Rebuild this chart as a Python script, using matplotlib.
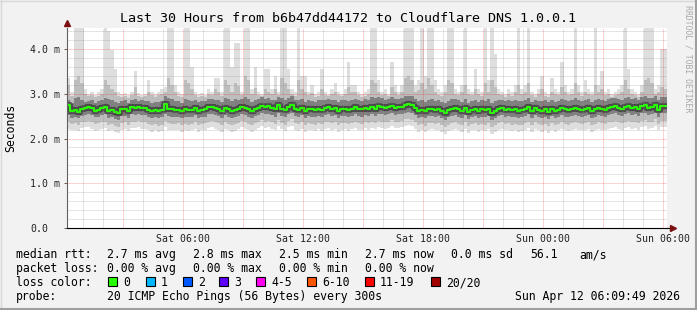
import numpy as np
import matplotlib
matplotlib.use("Agg")
import matplotlib.pyplot as plt
from matplotlib.patches import Rectangle
from matplotlib.lines import Line2D

# one column per 10 minutes, starting 00:12 Sat; values in 1/100 ms
start_h = 0.2
step_h = 1 / 6

median = [274, 262, 263, 260, 265, 268, 270, 269, 262, 264, 268, 270, 262, 263, 260, 258, 266, 267, 262, 270,
          269, 270, 269, 268, 263, 262, 264, 261, 263, 278, 266, 265, 264, 264, 262, 265, 263, 264, 268, 262,
          264, 265, 270, 271, 268, 266, 262, 268, 265, 262, 264, 267, 271, 268, 265, 262, 266, 269, 273, 270,
          272, 268, 265, 274, 267, 263, 271, 276, 266, 264, 268, 262, 266, 265, 263, 267, 264, 268, 270, 266,
          268, 262, 266, 267, 264, 267, 270, 266, 265, 269, 266, 270, 267, 272, 271, 268, 270, 273, 269, 270,
          271, 275, 277, 276, 268, 262, 264, 261, 266, 267, 264, 266, 262, 257, 263, 266, 268, 265, 262, 268,
          259, 264, 266, 262, 265, 263, 267, 258, 262, 266, 268, 264, 266, 263, 265, 262, 263, 266, 270, 262,
          268, 264, 262, 265, 260, 266, 262, 264, 268, 265, 263, 266, 268, 266, 264, 266, 268, 262, 265, 268,
          266, 264, 268, 270, 272, 268, 266, 270, 272, 268, 270, 266, 272, 274, 268, 270, 276, 264, 272, 272]

ping_max = [335, 305, 447, 447, 447, 310, 300, 305, 298, 303, 310, 447, 440, 397, 355, 305, 300, 302, 298, 305,
            350, 302, 298, 300, 330, 303, 299, 305, 310, 315, 447, 447, 320, 303, 300, 447, 447, 360, 305, 300,
            302, 298, 310, 305, 335, 335, 305, 447, 447, 360, 413, 413, 305, 447, 447, 310, 360, 305, 300, 355,
            355, 310, 340, 305, 447, 447, 355, 310, 303, 447, 340, 340, 305, 320, 300, 303, 355, 305, 300, 310,
            325, 305, 300, 310, 370, 320, 320, 305, 300, 303, 310, 447, 447, 330, 305, 310, 300, 370, 320, 305,
            320, 447, 447, 447, 320, 330, 447, 340, 447, 447, 330, 310, 305, 320, 447, 447, 310, 305, 320, 447,
            310, 305, 355, 310, 305, 447, 330, 447, 390, 310, 305, 300, 310, 305, 320, 447, 310, 320, 447, 305,
            300, 310, 340, 305, 300, 335, 310, 305, 370, 320, 305, 310, 447, 320, 305, 330, 310, 305, 447, 320,
            350, 305, 310, 300, 305, 310, 320, 447, 355, 310, 305, 300, 320, 447, 447, 447, 310, 320, 400, 400]

ping_hi = [320, 296, 330, 340, 325, 300, 294, 298, 292, 296, 300, 330, 320, 310, 305, 296, 292, 295, 290, 298,
           315, 294, 292, 296, 305, 297, 293, 298, 300, 305, 335, 320, 305, 296, 293, 330, 325, 310, 298, 293,
           296, 292, 300, 297, 310, 305, 296, 330, 320, 305, 325, 318, 297, 340, 330, 300, 312, 298, 294, 310,
           305, 300, 310, 297, 335, 325, 310, 300, 296, 330, 310, 305, 297, 302, 293, 296, 310, 298, 294, 300,
           305, 298, 294, 300, 315, 305, 303, 298, 293, 296, 300, 330, 325, 305, 297, 300, 294, 315, 303, 297,
           305, 335, 340, 330, 305, 308, 325, 310, 335, 320, 305, 298, 296, 305, 330, 325, 300, 297, 305, 320,
           300, 297, 310, 300, 296, 325, 305, 330, 315, 300, 297, 293, 300, 296, 305, 320, 300, 305, 325, 297,
           293, 300, 310, 296, 293, 305, 300, 297, 315, 305, 297, 300, 325, 305, 296, 305, 300, 297, 320, 305,
           310, 297, 300, 293, 297, 300, 305, 330, 310, 300, 297, 293, 305, 330, 335, 325, 300, 305, 315, 310]

ping_core_hi = [285, 280, 290, 292, 286, 282, 284, 286, 280, 283, 285, 290, 288, 286, 282, 280, 284, 285, 280, 286,
                288, 284, 285, 284, 283, 280, 282, 281, 283, 295, 290, 288, 284, 283, 280, 289, 287, 284, 286, 281,
                283, 284, 288, 289, 287, 285, 281, 290, 288, 283, 288, 287, 289, 292, 288, 282, 286, 288, 292, 289,
                291, 287, 286, 292, 290, 287, 290, 294, 285, 286, 288, 282, 285, 284, 282, 286, 285, 287, 289, 285,
                287, 282, 285, 286, 284, 286, 289, 285, 284, 288, 285, 292, 290, 292, 290, 287, 289, 292, 288, 289,
                290, 295, 296, 295, 288, 283, 286, 282, 287, 288, 284, 286, 282, 280, 284, 288, 288, 285, 282, 288,
                280, 284, 286, 282, 285, 284, 288, 280, 284, 286, 287, 284, 286, 283, 285, 283, 283, 286, 290, 282,
                287, 284, 283, 285, 281, 286, 282, 284, 288, 285, 283, 286, 290, 286, 284, 286, 288, 282, 287, 288,
                286, 284, 288, 290, 291, 288, 286, 291, 292, 288, 290, 286, 292, 294, 290, 291, 295, 285, 292, 292]

ping_core_lo = [252, 246, 248, 245, 250, 252, 254, 253, 247, 249, 252, 254, 246, 247, 244, 242, 250, 251, 246, 254,
                253, 254, 253, 252, 247, 246, 248, 245, 247, 255, 250, 249, 248, 248, 246, 249, 247, 248, 252, 246,
                248, 249, 254, 255, 252, 250, 246, 252, 249, 246, 248, 251, 255, 252, 249, 246, 250, 253, 256, 254,
                255, 252, 249, 257, 251, 247, 255, 258, 250, 248, 252, 246, 250, 249, 247, 251, 248, 252, 254, 250,
                252, 246, 250, 251, 248, 251, 254, 250, 249, 253, 250, 254, 251, 255, 254, 252, 254, 256, 253, 254,
                255, 258, 259, 258, 252, 246, 248, 245, 250, 251, 248, 250, 246, 242, 247, 250, 252, 249, 246, 252,
                243, 248, 250, 246, 249, 247, 251, 242, 246, 250, 252, 248, 250, 247, 249, 246, 247, 250, 254, 246,
                252, 248, 246, 249, 244, 250, 246, 248, 252, 249, 247, 250, 252, 250, 248, 250, 252, 246, 249, 252,
                250, 248, 252, 254, 256, 252, 250, 254, 256, 252, 254, 250, 256, 257, 252, 254, 258, 248, 256, 256]

ping_lo = [238, 232, 234, 230, 236, 238, 240, 236, 232, 234, 236, 238, 230, 232, 228, 226, 234, 236, 230, 238,
           238, 240, 236, 236, 232, 230, 233, 229, 231, 240, 234, 233, 232, 234, 230, 233, 231, 232, 236, 230,
           232, 234, 238, 240, 236, 234, 230, 236, 233, 230, 232, 235, 240, 236, 233, 230, 234, 237, 241, 238,
           240, 236, 233, 242, 235, 231, 240, 243, 234, 232, 236, 230, 234, 233, 231, 235, 232, 236, 238, 234,
           236, 230, 234, 235, 232, 235, 238, 234, 233, 237, 234, 238, 235, 240, 238, 236, 238, 241, 237, 238,
           240, 243, 244, 242, 236, 230, 232, 229, 234, 235, 232, 234, 230, 226, 231, 234, 236, 233, 230, 236,
           228, 232, 234, 230, 233, 231, 235, 226, 230, 234, 236, 232, 234, 231, 233, 230, 231, 234, 238, 230,
           236, 232, 230, 233, 228, 234, 230, 232, 236, 233, 231, 234, 236, 234, 232, 234, 236, 230, 233, 236,
           234, 232, 236, 238, 240, 236, 234, 238, 240, 236, 238, 234, 240, 242, 236, 238, 243, 232, 240, 240]

ping_min = [222, 218, 220, 216, 223, 225, 226, 221, 217, 220, 222, 224, 216, 218, 214, 212, 220, 222, 216, 224,
            224, 226, 222, 221, 218, 215, 219, 214, 217, 226, 220, 218, 218, 220, 215, 219, 216, 218, 222, 215,
            218, 220, 224, 226, 222, 220, 215, 222, 219, 215, 217, 221, 226, 222, 219, 215, 220, 223, 227, 224,
            226, 222, 219, 228, 221, 216, 226, 229, 220, 217, 222, 215, 220, 218, 216, 221, 217, 222, 224, 220,
            222, 215, 220, 221, 217, 221, 224, 220, 218, 223, 220, 224, 221, 226, 224, 222, 224, 227, 223, 224,
            226, 229, 230, 228, 222, 215, 218, 214, 220, 221, 218, 220, 215, 211, 217, 220, 222, 219, 215, 222,
            213, 218, 220, 215, 219, 216, 221, 211, 215, 220, 222, 218, 220, 216, 219, 215, 216, 220, 224, 215,
            222, 218, 215, 219, 213, 220, 215, 218, 222, 219, 216, 220, 222, 220, 218, 220, 222, 215, 219, 222,
            220, 218, 222, 224, 226, 222, 220, 224, 226, 222, 224, 220, 226, 228, 222, 224, 229, 218, 226, 226]

xtick_hours = [6, 12, 18, 24, 30]
xtick_labels = ["Sat 06:00", "Sat 12:00", "Sat 18:00", "Sun 00:00", "Sun 06:00"]
ytick_vals = [0, 1, 2, 3, 4]
ytick_labels = ["0.0", "1.0 m", "2.0 m", "3.0 m", "4.0 m"]

loss_labels = ["0", "1", "2", "3", "4-5", "6-10", "11-19", "20/20"]
loss_colors = ["#26ff00", "#00b8ff", "#0059ff", "#5e00ff", "#ff00f0", "#ff5500", "#ff0000", "#a10000"]

W, H = 697, 310
plt.rcParams['font.family'] = 'DejaVu Sans Mono'


def fx(px):
    return px / W


def fy(py):
    return 1 - py / H


fig = plt.figure(figsize=(W / 100, H / 100), dpi=100, facecolor='#f2f2f2')
ax = fig.add_axes([fx(67), fy(228), 600 / W, 200 / H])
ax.set_facecolor('white')

n = len(median)
t = start_h + np.arange(n + 1) * step_h


def edge(v):
    v = np.asarray(v) / 100.0
    return np.append(v, v[-1])


# smoke, outer to inner
ax.fill_between(t, edge(ping_min), edge(ping_max), step='post', color='#dedede', lw=0, zorder=1)
ax.fill_between(t, edge(ping_lo), edge(ping_hi), step='post', color='#bdbdbd', lw=0, zorder=1)
ax.fill_between(t, edge(ping_core_lo), edge(ping_core_hi), step='post', color='#808080', lw=0, zorder=1)
# dark shade right round the median, then the median itself
ax.step(t, edge(median), where='post', color='#3a3a3a', lw=4.5, alpha=0.75, zorder=2)
ax.step(t, edge(median), where='post', color='#26ff00', lw=1.5, zorder=2)

ax.set_xlim(start_h, start_h + 30)
ax.set_ylim(0, 4.47)

# rrdtool style dotted grid on top of the graph
for h in range(1, 31):
    if h % 3 == 0:
        ax.axvline(h, color=(1, 0, 0, 0.35), lw=0.72, ls=(0, (1, 1)), zorder=3)
    else:
        ax.axvline(h, color=(0.55, 0.55, 0.55, 0.45), lw=0.72, ls=(0, (1, 1)), zorder=3)
for k in range(1, 23):
    v = k * 0.2
    if k % 5 == 0:
        ax.axhline(v, color=(1, 0, 0, 0.35), lw=0.72, ls=(0, (1, 1)), zorder=3)
    else:
        ax.axhline(v, color=(0.55, 0.55, 0.55, 0.45), lw=0.72, ls=(0, (1, 1)), zorder=3)

for s in ['top', 'right']:
    ax.spines[s].set_visible(False)
ax.spines['left'].set_color('#606060')
ax.spines['bottom'].set_color('black')
ax.spines['left'].set_linewidth(0.8)
ax.spines['bottom'].set_linewidth(0.8)

ax.set_xticks(xtick_hours, xtick_labels)
ax.set_yticks(ytick_vals, ytick_labels)
ax.tick_params(axis='x', length=0, pad=4, labelsize=7.1, labelcolor='#222222')
ax.tick_params(axis='y', length=2, width=0.7, color='#606060', pad=24.6, labelsize=7.1, labelcolor='#222222')
for lab in ax.get_yticklabels():
    lab.set_horizontalalignment('left')

# axis arrows
ax.plot([1.0, 1.008], [0, 0], transform=ax.transAxes, clip_on=False, color='black', lw=0.8)
ax.plot([1.01], [0], marker='>', ms=4, color='#7a1010', transform=ax.transAxes, clip_on=False)
ax.plot([0], [1.025], marker='^', ms=4, color='#7a1010', transform=ax.transAxes, clip_on=False)

fig.text(fx(348), fy(19), "Last 30 Hours from b6b47dd44172 to Cloudflare DNS 1.0.0.1",
         ha='center', va='center', fontsize=9.6, color='black')
fig.text(fx(11), fy(128), "Seconds", rotation=90, ha='center', va='center', fontsize=8.3, color='black')
fig.text(fx(688), fy(5), "RRDTOOL / TOBI OETIKER", rotation=270, ha='center', va='top',
         fontsize=5.9, color='#a8a8a8')

lfs = 8.3
row1 = [(16, "median rtt:"), (107, "2.7 ms avg"), (193, "2.8 ms max"), (279, "2.5 ms min"),
        (365, "2.7 ms now"), (451, "0.0 ms sd"), (530, "56.1"), (579, "am/s")]
row2 = [(16, "packet loss:"), (107, "0.00 % avg"), (193, "0.00 % max"), (279, "0.00 % min"),
        (365, "0.00 % now")]
for x, s in row1:
    fig.text(fx(x), fy(258), s, ha='left', va='baseline', fontsize=lfs)
for x, s in row2:
    fig.text(fx(x), fy(272), s, ha='left', va='baseline', fontsize=lfs)

fig.text(fx(16), fy(286), "loss color:", ha='left', va='baseline', fontsize=lfs)
box_x = [108.3, 145.7, 182.7, 219.3, 256, 307.3, 365, 430.7]
for bx, lab, c in zip(box_x, loss_labels, loss_colors):
    fig.add_artist(Rectangle((fx(bx), fy(286)), 9 / W, 9 / H, transform=fig.transFigure,
                             facecolor=c, edgecolor='black', lw=0.8))
    fig.text(fx(bx + 15), fy(286), lab, ha='left', va='baseline', fontsize=lfs)

fig.text(fx(16), fy(300), "probe:", ha='left', va='baseline', fontsize=lfs)
fig.text(fx(107), fy(300), "20 ICMP Echo Pings (56 Bytes) every 300s", ha='left', va='baseline', fontsize=lfs)
fig.text(fx(680), fy(300), "Sun Apr 12 06:09:49 2026", ha='right', va='baseline', fontsize=lfs)

# rrdtool frame: light top/left, dark bottom/right
fig.add_artist(Line2D([0, 1], [fy(0.5), fy(0.5)], transform=fig.transFigure, color='#d8d8d8', lw=1))
fig.add_artist(Line2D([fx(0.5), fx(0.5)], [0, 1], transform=fig.transFigure, color='#d8d8d8', lw=1))
fig.add_artist(Line2D([0, 1], [fy(309), fy(309)], transform=fig.transFigure, color='#9e9e9e', lw=1.5))
fig.add_artist(Line2D([fx(696), fx(696)], [0, 1], transform=fig.transFigure, color='#9e9e9e', lw=1.5))

fig.savefig("out.png", dpi=100, facecolor=fig.get_facecolor())
